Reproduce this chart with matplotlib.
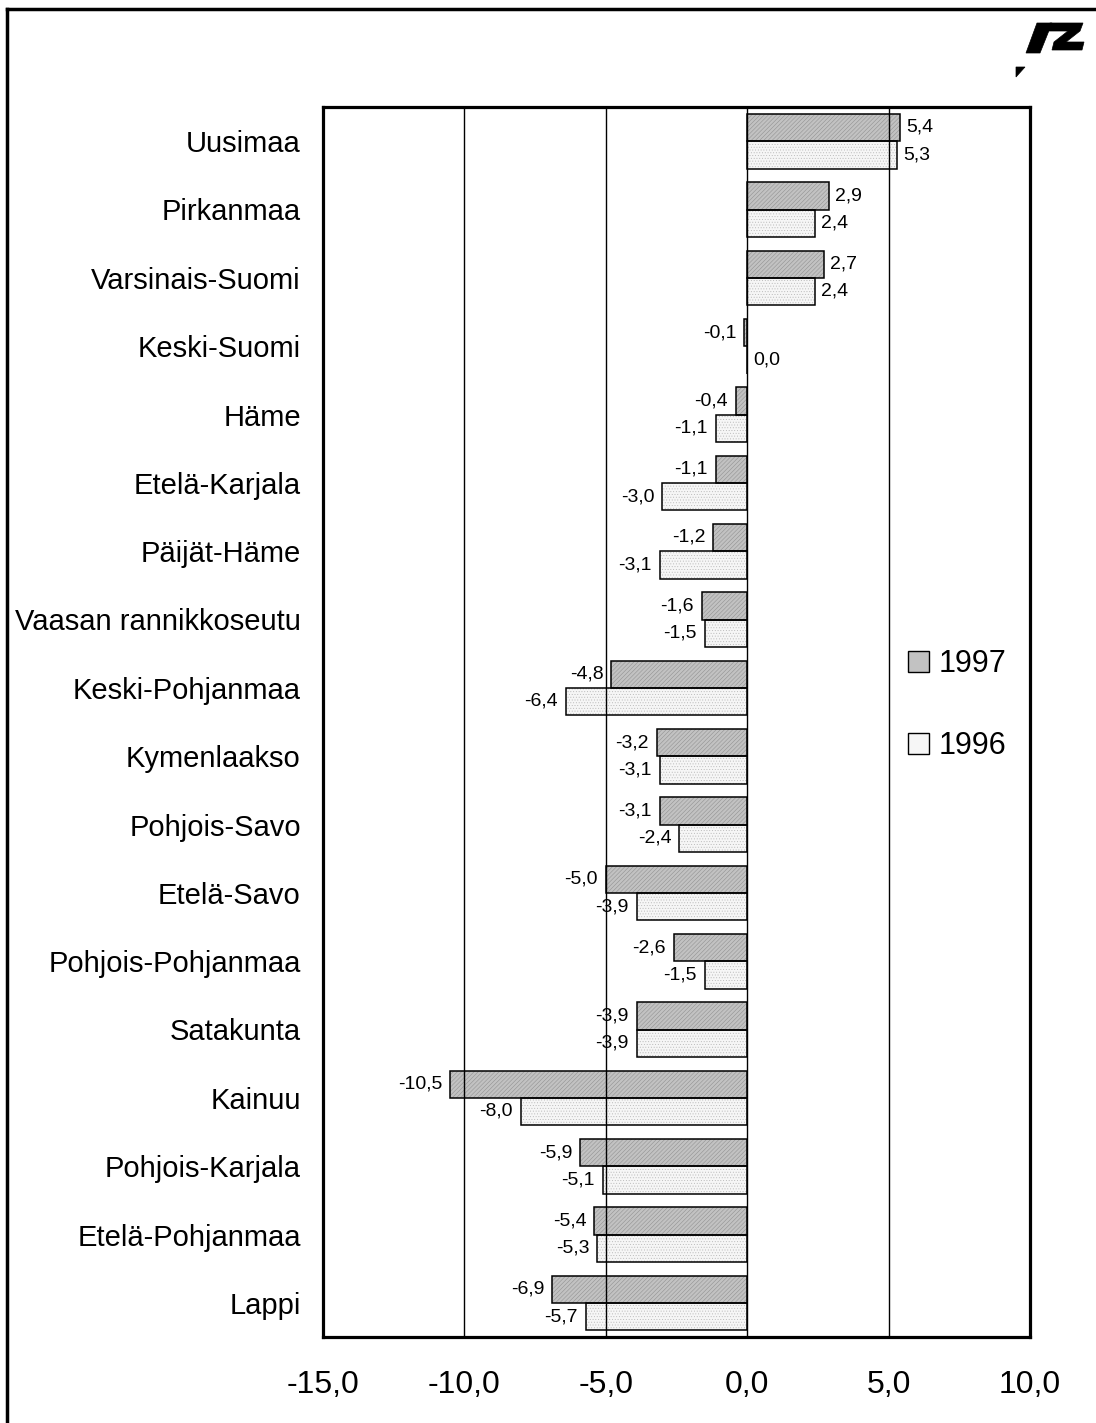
import matplotlib
matplotlib.use("Agg")
import matplotlib.pyplot as plt
from matplotlib.patches import Polygon
from matplotlib.lines import Line2D
import numpy as np

plt.rcParams['font.family'] = ['Liberation Sans', 'DejaVu Sans']
plt.rcParams['hatch.linewidth'] = 0.35

regions = ["Uusimaa", "Pirkanmaa", "Varsinais-Suomi", "Keski-Suomi", "Häme",
           "Etelä-Karjala", "Päijät-Häme", "Vaasan rannikkoseutu", "Keski-Pohjanmaa",
           "Kymenlaakso", "Pohjois-Savo", "Etelä-Savo", "Pohjois-Pohjanmaa",
           "Satakunta", "Kainuu", "Pohjois-Karjala", "Etelä-Pohjanmaa", "Lappi"]
v1997 = [5.4, 2.9, 2.7, -0.1, -0.4, -1.1, -1.2, -1.6, -4.8, -3.2, -3.1, -5.0,
         -2.6, -3.9, -10.5, -5.9, -5.4, -6.9]
v1996 = [5.3, 2.4, 2.4, 0.0, -1.1, -3.0, -3.1, -1.5, -6.4, -3.1, -2.4, -3.9,
         -1.5, -3.9, -8.0, -5.1, -5.3, -5.7]
series_labels = ["1997", "1996"]
xticks = [-15, -10, -5, 0, 5, 10]

W, H = 1096, 1423
fig = plt.figure(figsize=(W / 100, H / 100), dpi=100)
ax = fig.add_axes([323 / W, 1 - 1337 / H, (1030 - 323) / W, (1337 - 107) / H])

n = len(regions)
y = np.arange(n)
bh = 0.4
c97, c96 = '#c2c2c2', '#f6f6f6'
h97, h96 = '#8c8c8c', '#b8b8b8'
pat97, pat96 = '////////', '......'

# textured fills, then black outlines on top
ax.barh(y - bh / 2, v1997, height=bh, color=c97, edgecolor=h97, linewidth=0,
        hatch=pat97, zorder=3)
ax.barh(y + bh / 2, v1996, height=bh, color=c96, edgecolor=h96, linewidth=0,
        hatch=pat96, zorder=3)
ax.barh(y - bh / 2, v1997, height=bh, fill=False, edgecolor='black', linewidth=1.1, zorder=4)
ax.barh(y + bh / 2, v1996, height=bh, fill=False, edgecolor='black', linewidth=1.1, zorder=4)

def fmt(v):
    return f"{v:.1f}".replace('.', ',')

for vals, off in ((v1997, -bh / 2), (v1996, bh / 2)):
    for i, v in enumerate(vals):
        if v >= 0:
            ax.annotate(fmt(v), (v, i + off), xytext=(6, 0),
                        textcoords='offset pixels', ha='left', va='center',
                        fontsize=14, zorder=5)
        else:
            ax.annotate(fmt(v), (v, i + off), xytext=(-8, 0),
                        textcoords='offset pixels', ha='right', va='center',
                        fontsize=14, zorder=5)

ax.set_xlim(-15, 10)
ax.set_ylim(n - 0.5, -0.5)
ax.set_xticks(xticks)
ax.set_xticklabels([fmt(t) for t in xticks], fontsize=23)
ax.set_yticks(y)
ax.set_yticklabels(regions, fontsize=21)
ax.tick_params(axis='both', length=0)
ax.tick_params(axis='y', pad=16)
ax.tick_params(axis='x', pad=24)
for t in (-10, -5, 0, 5):
    ax.axvline(t, color='black', linewidth=1.0, zorder=6 if t != 0 else 4)
for s in ax.spines.values():
    s.set_linewidth(2.3)
    s.set_zorder(7)

handles = [plt.Rectangle((0, 0), 1, 1, facecolor=c97, edgecolor='black', linewidth=1.0),
           plt.Rectangle((0, 0), 1, 1, facecolor=c96, edgecolor='black', linewidth=1.0)]
fig.legend(handles, series_labels, loc='center left',
           bbox_to_anchor=(908 / W, 1 - 705 / H), frameon=False, fontsize=22,
           borderpad=0, borderaxespad=0,
           handlelength=0.68, handleheight=0.68, handletextpad=0.33, labelspacing=1.7)

# outer frame (left and top)
fig.add_artist(Line2D([7 / W, 7 / W], [0, 1 - 9 / H], transform=fig.transFigure,
                      color='black', linewidth=2.5))
fig.add_artist(Line2D([7 / W, 1], [1 - 9 / H, 1 - 9 / H], transform=fig.transFigure,
                      color='black', linewidth=2.5))

# logo
def fp(pts):
    return [(x / W, 1 - yy / H) for x, yy in pts]
logo = [
    [(1037, 23), (1052, 23), (1040, 53), (1026, 53)],
    [(1050, 23), (1083, 23), (1080, 31), (1066, 42), (1084, 42), (1082, 50),
     (1052, 50), (1054, 42), (1068, 31), (1048, 31)],
    [(1016, 67), (1025, 67), (1016, 77)],
]
for pts in logo:
    fig.add_artist(Polygon(fp(pts), closed=True, transform=fig.transFigure,
                           facecolor='black', edgecolor='black', linewidth=0.5))

fig.savefig("out.png", dpi=100)
